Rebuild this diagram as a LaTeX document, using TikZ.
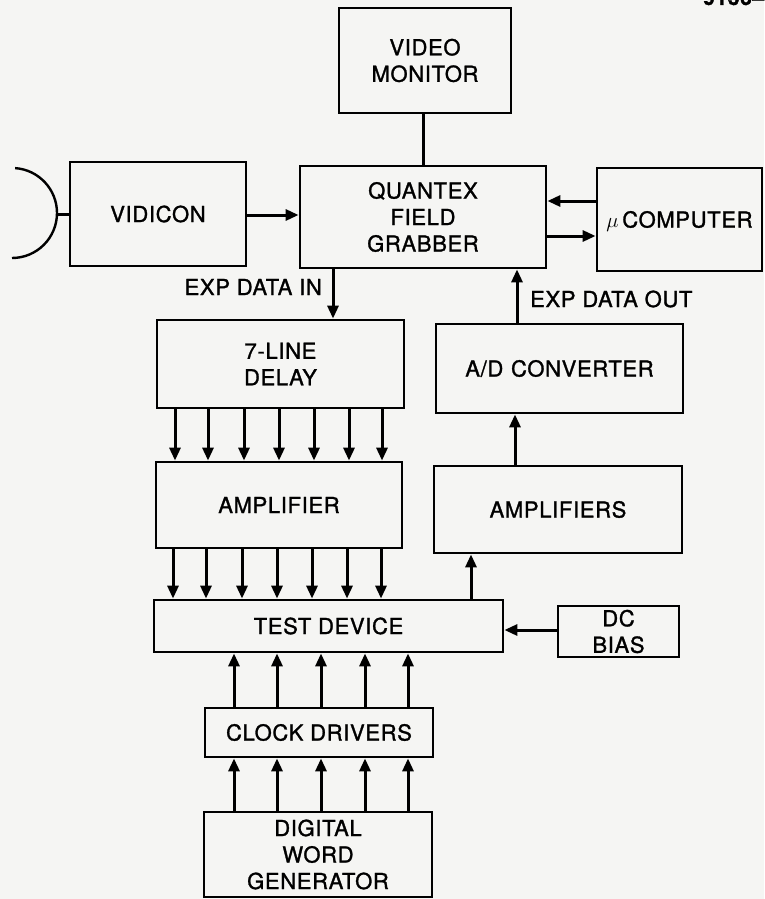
\documentclass[tikz,border=0pt]{standalone}
\usepackage{fontspec}
\setmainfont{TeX Gyre Heros}[LetterSpace=3,FakeBold=1.3]
\usetikzlibrary{arrows.meta}
\definecolor{bg}{RGB}{245,245,243}
\newcommand{\mybox}[6]{\node[box, minimum width={#4-#2}, minimum height={#5-#3}] (#1) at ({(#2+#4)/2},{(#3+#5)/2}) {#6};}
\begin{document}
\begin{tikzpicture}[x=1pt,y=-1pt,
  box/.style={draw, line width=2.8pt, inner sep=0pt, align=center, font=\fontsize{22}{26.5}\selectfont},
  arr/.style={line width=3pt, -{Triangle[length=13pt,width=11pt]}},
  ln/.style={line width=3pt},
  lbl/.style={font=\fontsize{22}{26.5}\selectfont, inner sep=0pt}]
\fill[bg] (0,0) rectangle (764,899);
\useasboundingbox (0,0) rectangle (764,899);

% blocks
\mybox{vm}{339}{8}{511}{113}{VIDEO\\MONITOR}
\mybox{vid}{70}{162}{246}{266}{VIDICON}
\mybox{qfg}{300}{166}{546}{268}{QUANTEX\\FIELD\\GRABBER}
\mybox{mc}{597}{168}{762}{271}{\smash{$\mu$}\,COMPUTER}
\mybox{dly}{157}{320}{404}{408}{7-LINE\\DELAY}
\mybox{ad}{436}{324}{683}{413}{A/D\hspace{0.35em}CONVERTER}
\mybox{amp}{156}{462}{402}{548}{AMPLIFIER}
\mybox{amps}{434}{466}{682}{553}{AMPLIFIERS}
\mybox{td}{154}{600}{503}{652}{TEST DEVICE}
\mybox{dc}{558}{606}{679}{657}{DC\\BIAS}
\mybox{clk}{205}{708}{433}{757}{CLOCK DRIVERS}
\mybox{dwg}{204}{812}{432}{897}{DIGITAL\\WORD\\GENERATOR}

% labels
\node[lbl, anchor=east] (lin) at (322,287) {EXP DATA IN};
\node[lbl, anchor=west] (lout) at (530,299) {EXP DATA OUT};
\node[lbl, anchor=base west, font=\fontsize{21}{26.5}\selectfont\bfseries] (fig) at (703,5) {9136–};

% dish antenna
\coordinate (dtip) at (57,214);
\draw[line width=2.4pt] (12,258) arc[start angle=90, end angle=-86, radius=45];
\draw[ln] (dtip) -- (vid.west |- dtip);

% connectors
\draw[ln] (vm.south -| 423,0) -- (qfg.north -| 423,0);
\draw[arr] (vid.east |- 0,215) -- (qfg.west |- 0,215);
\draw[arr] (mc.west |- 0,201) -- (qfg.east |- 0,201);
\draw[arr] (qfg.east |- 0,236) -- (mc.west |- 0,236);
\draw[arr] (qfg.south -| 333,0) -- (dly.north -| 333,0);
\draw[arr] (ad.north -| 517,0) -- (qfg.south -| 517,0);
\draw[arr] (amps.north -| 515,0) -- (ad.south -| 515,0);
\draw[arr] (td.north -| 471,0) -- (amps.south -| 471,0);
\draw[arr] (dc.west |- 0,630) -- (td.east |- 0,630);
\foreach \x in {175,208,244,279,314,349,382}{
  \draw[arr] (dly.south -| \x,0) -- (amp.north -| \x,0);
}
\foreach \x in {173,206,242,277,312,347,381}{
  \draw[arr] (amp.south -| \x,0) -- (td.north -| \x,0);
}
\foreach \x in {234,277,321,365,408}{
  \draw[arr] (clk.north -| \x,0) -- (td.south -| \x,0);
  \draw[arr] (dwg.north -| \x,0) -- (clk.south -| \x,0);
}
\end{tikzpicture}
\end{document}
